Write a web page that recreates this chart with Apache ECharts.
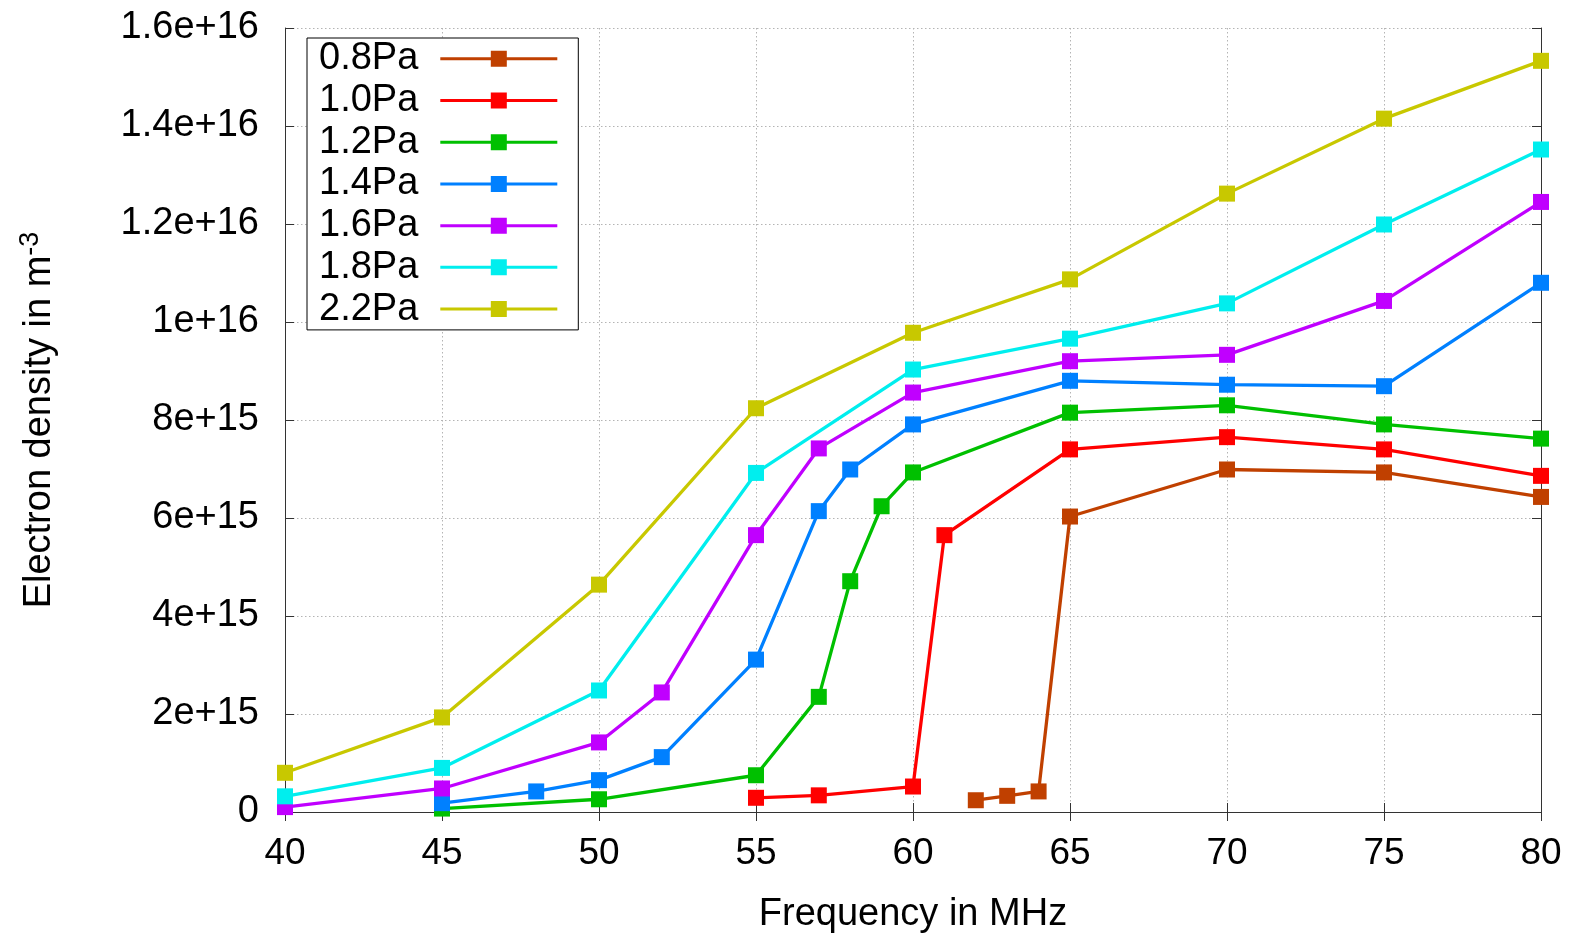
<!DOCTYPE html>
<html>
<head>
<meta charset="utf-8">
<title>Electron density vs frequency</title>
<script src="https://cdn.jsdelivr.net/npm/echarts@6/dist/echarts.min.js"></script>
<style>
  html, body { margin: 0; padding: 0; background: #fff; }
  #chart { width: 1572px; height: 935px; }
</style>
</head>
<body>
<div id="chart"></div>
<script>
// values, density in units of 1e15 m^-3
var pressures = ['0.8Pa', '1.0Pa', '1.2Pa', '1.4Pa', '1.6Pa', '1.8Pa', '2.2Pa'];
var colors = ['#c04000', '#ff0000', '#00c000', '#0080ff', '#c000ff', '#00eeee', '#c8c800'];

var freq08 = [62, 63, 64, 65, 70, 75, 80];
var dens08 = [0.24, 0.33, 0.42, 6.03, 6.99, 6.93, 6.43];

var freq10 = [55, 57, 60, 61, 65, 70, 75, 80];
var dens10 = [0.29, 0.34, 0.52, 5.65, 7.40, 7.65, 7.40, 6.86];

var freq12 = [45, 50, 55, 57, 58, 59, 60, 65, 70, 75, 80];
var dens12 = [0.07, 0.26, 0.75, 2.35, 4.71, 6.24, 6.93, 8.15, 8.30, 7.91, 7.62];

var freq14 = [45, 48, 50, 52, 55, 57, 58, 60, 65, 70, 75, 80];
var dens14 = [0.18, 0.42, 0.65, 1.12, 3.11, 6.14, 6.99, 7.91, 8.80, 8.72, 8.69, 10.80];

var freq16 = [40, 45, 50, 52, 55, 57, 60, 65, 70, 75, 80];
var dens16 = [0.10, 0.48, 1.42, 2.44, 5.65, 7.42, 8.56, 9.20, 9.33, 10.43, 12.45];

var freq18 = [40, 45, 50, 55, 60, 65, 70, 75, 80];
var dens18 = [0.32, 0.90, 2.48, 6.92, 9.03, 9.66, 10.38, 11.99, 13.52];

var freq22 = [40, 45, 50, 55, 60, 65, 70, 75, 80];
var dens22 = [0.80, 1.93, 4.64, 8.24, 9.78, 10.87, 12.62, 14.15, 15.33];

var yTickLabels = ['0', '2e+15', '4e+15', '6e+15', '8e+15', '1e+16', '1.2e+16', '1.4e+16', '1.6e+16'];

var freqs = [freq08, freq10, freq12, freq14, freq16, freq18, freq22];
var dens = [dens08, dens10, dens12, dens14, dens16, dens18, dens22];

var font = '"Liberation Sans", Arial, sans-serif';
var legendIcon = 'path://M0,6.5L117,6.5L117,9.5L0,9.5Z M50.5,0L66.5,0L66.5,16L50.5,16Z';

var myChart = echarts.init(document.getElementById('chart'));

var series = pressures.map(function (name, i) {
    return {
        name: name,
        type: 'line',
        data: freqs[i].map(function (f, j) { return [f, dens[i][j]]; }),
        symbol: 'rect',
        symbolSize: 16,
        clip: false,
        itemStyle: { color: colors[i] },
        lineStyle: { color: colors[i], width: 3.3 },
        emphasis: { disabled: true },
        animation: false
    };
});

var tickStyle = { show: true, inside: true, length: 9, lineStyle: { color: '#333', width: 1 } };
var lineStyle = { show: true, lineStyle: { color: '#333', width: 1 } };
var gridStyle = { show: true, lineStyle: { color: '#b4b4b4', width: 1, type: [1.5, 2.5] } };

var option = {
    backgroundColor: '#fff',
    textStyle: { fontFamily: font, color: '#000' },
    grid: { left: 285, right: 31, top: 28, bottom: 123, outerBoundsMode: 'none' },
    legend: {
        orient: 'vertical',
        left: 307,
        top: 38,
        align: 'right',
        selectedMode: false,
        icon: legendIcon,
        itemWidth: 117,
        itemHeight: 16,
        itemGap: 0,
        padding: [0, 21, 0, 12],
        borderColor: '#000',
        borderWidth: 1,
        backgroundColor: '#fff',
        textStyle: { fontFamily: font, fontSize: 38, color: '#000', lineHeight: 41.7, padding: [0, 17, 0, 0] },
        data: pressures
    },
    xAxis: [
        {
            type: 'value',
            min: 40,
            max: 80,
            interval: 5,
            name: 'Frequency in MHz',
            nameLocation: 'middle',
            nameGap: 84,
            nameTextStyle: { fontFamily: font, fontSize: 38, color: '#000' },
            axisLine: lineStyle,
            axisTick: tickStyle,
            splitLine: gridStyle,
            axisLabel: { fontFamily: font, fontSize: 37, color: '#000', margin: 23 }
        },
        {
            type: 'value',
            position: 'top',
            min: 40,
            max: 80,
            interval: 5,
            axisLine: lineStyle,
            axisTick: tickStyle,
            splitLine: { show: false },
            axisLabel: { show: false }
        }
    ],
    yAxis: [
        {
            type: 'value',
            min: 0,
            max: 16,
            interval: 2,
            name: '{a|Electron density in m}{b|-3}',
            nameLocation: 'middle',
            nameGap: 222,
            nameRotate: 90,
            nameTextStyle: {
                rich: {
                    a: { fontFamily: font, fontSize: 38, color: '#000', lineHeight: 46 },
                    b: { fontFamily: font, fontSize: 27, color: '#000', verticalAlign: 'top', lineHeight: 27 }
                }
            },
            axisLine: lineStyle,
            axisTick: tickStyle,
            splitLine: gridStyle,
            axisLabel: {
                fontFamily: font, fontSize: 38, color: '#000', margin: 26,
                formatter: function (v) { return yTickLabels[Math.round(v / 2)]; }
            }
        },
        {
            type: 'value',
            position: 'right',
            min: 0,
            max: 16,
            interval: 2,
            axisLine: lineStyle,
            axisTick: tickStyle,
            splitLine: { show: false },
            axisLabel: { show: false }
        }
    ],
    series: series
};

myChart.setOption(option);
</script>
</body>
</html>
